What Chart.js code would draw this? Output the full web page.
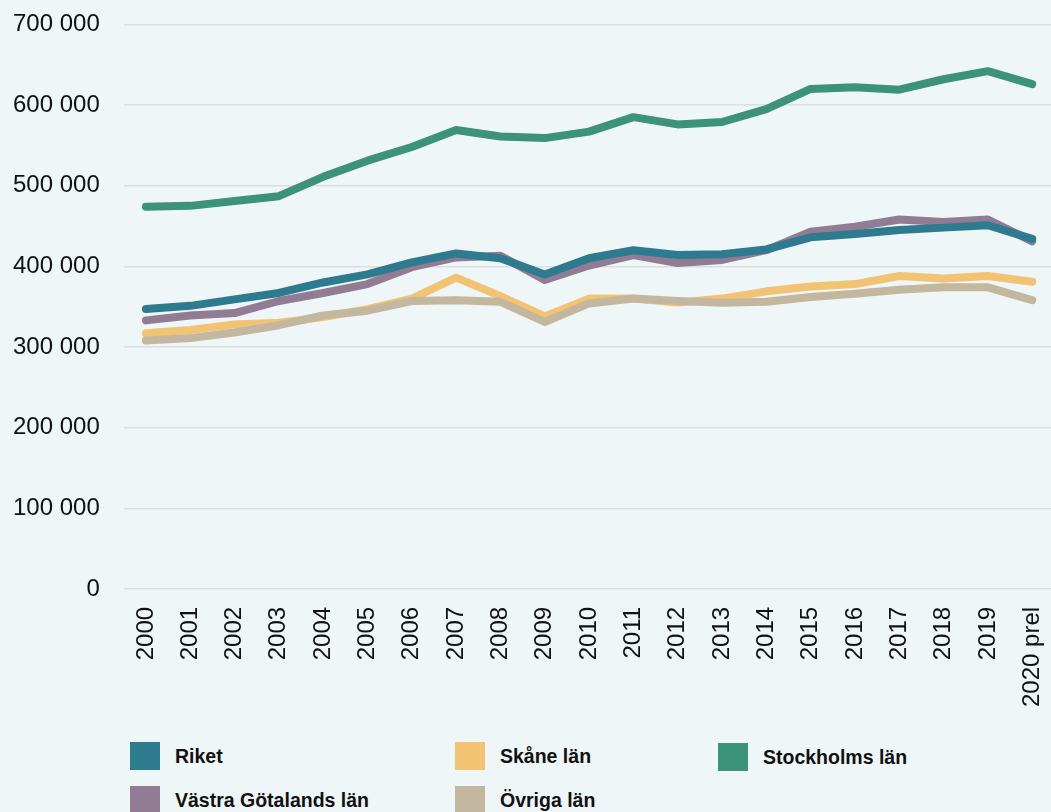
<!DOCTYPE html>
<html>
<head>
<meta charset="utf-8">
<script src="https://cdn.jsdelivr.net/npm/chart.js@4/dist/chart.umd.min.js"></script>
<style>
  html, body { margin: 0; padding: 0; background: #eef6f8; }
  #wrap { position: relative; width: 1051px; height: 812px; overflow: hidden; }
  #box { position: absolute; left: -11px; top: -14px; width: 1082px; height: 731px; }
  .leg { position: absolute; font: bold 19.5px "Liberation Sans", Arial, sans-serif; color: #111; white-space: nowrap; }
  .leg span.sw { position: absolute; left: 0; top: 0; width: 30px; height: 28px; }
  .leg span.tx { position: absolute; left: 45px; top: 3px; }
</style>
</head>
<body>
<div id="wrap">
  <div id="box"><canvas id="myChart"></canvas></div>
  <div id="legend"></div>
</div>
<script>
var years = ["2000", "2001", "2002", "2003", "2004", "2005", "2006", "2007", "2008", "2009", "2010",
             "2011", "2012", "2013", "2014", "2015", "2016", "2017", "2018", "2019", "2020 prel"];

var riket = [347000, 351000, 359000, 367000, 380000, 390000, 405000, 416000, 410000, 390000, 410000,
             420000, 414000, 415000, 421000, 436000, 440000, 445000, 448000, 451000, 434000];
var skane = [317000, 321000, 328000, 330000, 337000, 347000, 360000, 386000, 363000, 338000, 360000,
             360000, 355000, 360000, 369000, 375000, 378000, 388000, 385000, 388000, 381000];
var stockholm = [474000, 475000, 481000, 487000, 511000, 531000, 548000, 569000, 561000, 559000, 567000,
                 585000, 576000, 579000, 595000, 620000, 622000, 619000, 632000, 642000, 626000];
var vastra = [333000, 339000, 342000, 357000, 367000, 378000, 399000, 411000, 413000, 383000, 401000,
              414000, 404000, 408000, 420000, 443000, 449000, 458000, 455000, 458000, 431000];
var ovriga = [308000, 311000, 318000, 327000, 339000, 345000, 357000, 358000, 356000, 331000, 354000,
              360000, 357000, 355000, 356000, 362000, 366000, 371000, 374000, 374000, 358000];

var yTicks = [0, 100000, 200000, 300000, 400000, 500000, 600000, 700000];

// legend order (3 columns)
var legendItems = [
    {label: "Riket", color: "#2e7a8f", x: 130, y: 742},
    {label: "Skåne län", color: "#f3c374", x: 455, y: 742},
    {label: "Stockholms län", color: "#3c9377", x: 718, y: 743},
    {label: "Västra Götalands län", color: "#917c93", x: 130, y: 786},
    {label: "Övriga län", color: "#c4b79f", x: 455, y: 786}
];

function col(name){
    for(var i = 0; i < legendItems.length; i++){
        if(legendItems[i].label == name) return legendItems[i].color;
    }
}

function ds(label, data){
    return {
        label: label,
        data: data,
        borderColor: col(label),
        backgroundColor: col(label),
        borderWidth: 8,
        borderCapStyle: "round",
        borderJoinStyle: "round",
        pointRadius: 0,
        tension: 0,
        fill: false
    };
}

// first dataset is drawn on top
var dts = [
    ds("Stockholms län", stockholm),
    ds("Riket", riket),
    ds("Övriga län", ovriga),
    ds("Västra Götalands län", vastra),
    ds("Skåne län", skane)
];

var legendDiv = document.getElementById("legend");
for(var i = 0; i < legendItems.length; i++){
    var it = legendItems[i];
    var d = document.createElement("div");
    d.className = "leg";
    d.style.left = it.x + "px";
    d.style.top = it.y + "px";
    var sw = document.createElement("span");
    sw.className = "sw";
    sw.style.background = it.color;
    var tx = document.createElement("span");
    tx.className = "tx";
    tx.appendChild(document.createTextNode(it.label));
    d.appendChild(sw);
    d.appendChild(tx);
    legendDiv.appendChild(d);
}

var tickFont = {family: "'Liberation Sans', Arial, sans-serif", size: 24};

var chart = new Chart(document.getElementById("myChart").getContext("2d"), {
    type: "line",
    data: {labels: years, datasets: dts},
    options: {
        responsive: true,
        maintainAspectRatio: false,
        animation: false,
        layout: {padding: {top: 12, right: 0, left: 0, bottom: 0}},
        plugins: {legend: {display: false}, tooltip: {enabled: false}},
        scales: {
            x: {
                offset: true,
                grid: {display: false},
                border: {display: false},
                ticks: {color: "#111", font: tickFont, maxRotation: 90, minRotation: 90, padding: 10, autoSkip: false}
            },
            y: {
                min: 0,
                max: 700000,
                afterBuildTicks: function(axis){
                    axis.ticks = yTicks.map(function(v){ return {value: v}; });
                },
                grid: {color: "#dcdfe0", lineWidth: 1.5, drawTicks: false},
                border: {display: false},
                ticks: {
                    color: "#111",
                    font: tickFont,
                    padding: 24,
                    callback: function(v){
                        return String(v).replace(/\B(?=(\d{3})+(?!\d))/g, " ");
                    }
                }
            }
        }
    }
});
</script>
</body>
</html>
